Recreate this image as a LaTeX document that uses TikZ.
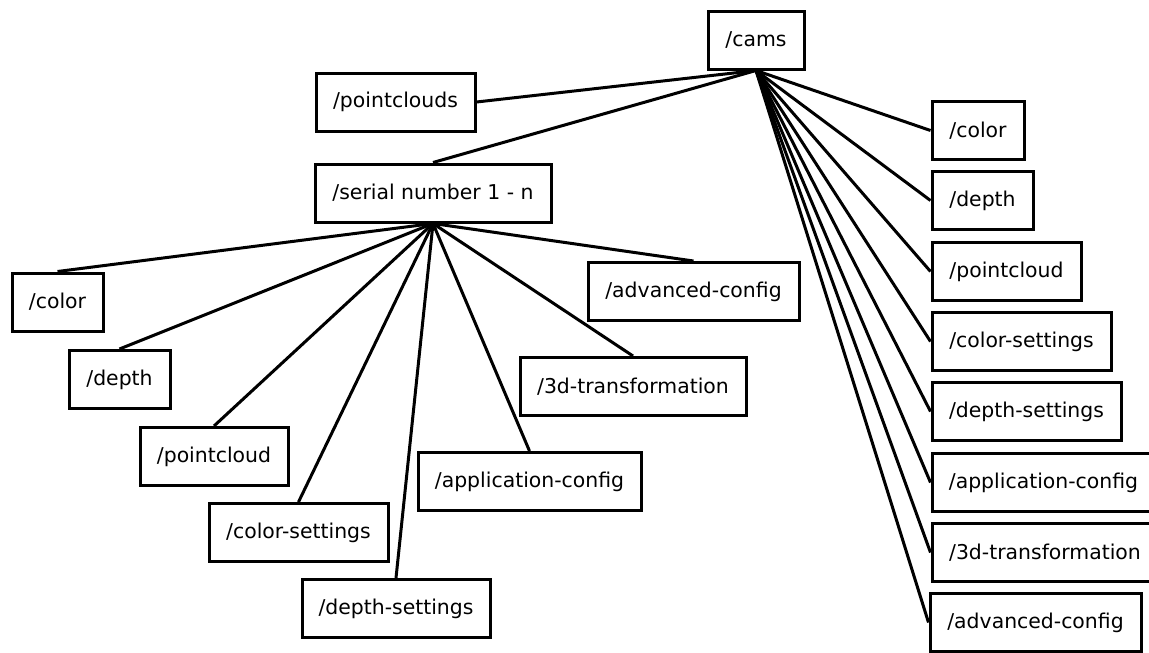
\documentclass[tikz,border=0pt]{standalone}
\usepackage{fontspec}
\setmainfont{DejaVu Sans}
\begin{document}
\begin{tikzpicture}[x=1pt,y=-1pt,
  box/.style={draw=black,fill=white,line width=3pt,inner sep=0pt,
    minimum height=58pt,font=\fontsize{20.4}{24}\selectfont},
  link/.style={line width=3pt}]
\useasboundingbox (0,0) rectangle (1149,653);
\clip (0,0) rectangle (1149,653);
% root and first level
\node[box,minimum width=96pt]  (cams)   at (756,40)    {/cams};
\node[box,minimum width=159pt] (pcs)    at (395.5,102) {/pointclouds};
\node[box,minimum width=236pt] (serial) at (433,193)   {/serial number 1 - n};
% children of the serial-number node
\node[box,minimum width=91pt]  (scolor) at (57.5,302)   {/color};
\node[box,minimum width=101pt] (sdepth) at (119.5,379.5){/depth};
\node[box,minimum width=148pt] (spc)    at (214,456.5)  {/pointcloud};
\node[box,minimum width=179pt] (scs)    at (298.5,532.5){/color-settings};
\node[box,minimum width=188pt] (sds)    at (396,608.5)  {/depth-settings};
\node[box,minimum width=223pt] (sapp)   at (529.5,481.5){/application-config};
\node[box,minimum width=226pt] (s3d)    at (633,386.5)  {/3d-transformation};
\node[box,minimum width=211pt] (sadv)   at (693.5,291.5){/advanced-config};
% children of /cams
\node[box,minimum width=92pt]  (ccolor) at (978,130.5)   {/color};
\node[box,minimum width=101pt] (cdepth) at (982.5,200.5) {/depth};
\node[box,minimum width=149pt] (cpc)    at (1006.5,271.5){/pointcloud};
\node[box,minimum width=179pt] (ccs)    at (1021.5,341.5){/color-settings};
\node[box,minimum width=189pt] (cds)    at (1026.5,411.5){/depth-settings};
\node[box,minimum width=223pt] (capp)   at (1043.5,482.5){/application-config};
\node[box,minimum width=226pt] (c3d)    at (1045,552.5)  {/3d-transformation};
\node[box,minimum width=211pt] (cadv)   at (1035.5,622.5){/advanced-config};
% connectors
\draw[link] (pcs.east) -- (cams.south);
\draw[link] (serial.north) -- (cams.south);
\foreach \n in {ccolor,cdepth,cpc,ccs,cds,capp,c3d,cadv}
  \draw[link] (cams.south) -- (\n.west);
\foreach \n in {scolor,sdepth,spc,scs,sds,sapp,s3d,sadv}
  \draw[link] (serial.south) -- (\n.north);
\end{tikzpicture}
\end{document}
